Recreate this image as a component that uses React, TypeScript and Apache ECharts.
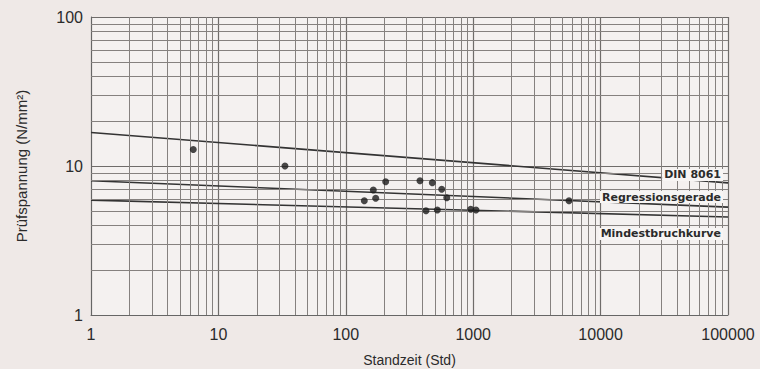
import React, { useEffect, useRef } from "react";
import * as echarts from "echarts";

// Axis decades and minor grid factors
const xDecades = [1, 10, 100, 1000, 10000];
const yDecades = [1, 10];
const minorFactors = [2, 3, 4, 5, 6, 7, 8, 9];

// Measured samples: Standzeit (h) and Prüfspannung (N/mm²)
const standzeit = [6.35, 33.3, 139.7, 164.4, 171.7, 205.6, 382, 426, 477.6, 523, 566, 620, 956, 1052, 5650];
const spannung = [12.9, 10.0, 5.85, 6.9, 6.07, 7.85, 7.97, 5.01, 7.73, 5.07, 6.98, 6.13, 5.12, 5.07, 5.85];

// Reference lines (values at x = 1 and x = 100000)
const lineX = [1, 100000];
const din8061 = [16.8, 7.7];
const regressionsgerade = [7.97, 5.3];
const mindestbruchkurve = [5.9, 4.55];

const FONT = "Liberation Sans";
const LABEL_FONT = "DejaVu Sans";
const GRID_COLOR = "#85817f";
const INK = "#2b2b2b";

function minorValues(decades: number[]) {
  const out: number[] = [];
  decades.forEach((d) => minorFactors.forEach((f) => out.push(d * f)));
  return out;
}

function lineSeries(name: string, values: number[], labelOffset: number[]) {
  return {
    name,
    type: "line",
    data: lineX.map((x, i) => [x, values[i]]),
    showSymbol: false,
    symbol: "none",
    lineStyle: { color: "#333", width: 1.6 },
    z: 3,
    markPoint: {
      silent: true,
      symbol: "rect",
      symbolSize: 0,
      data: [
        {
          coord: [lineX[1], values[1]],
          label: {
            show: true,
            formatter: name,
            position: "left",
            distance: 5,
            offset: labelOffset,
            fontFamily: LABEL_FONT,
            fontWeight: "bold",
            fontSize: 11,
            color: INK,
            backgroundColor: "#f7f5f4",
            padding: [1, 2, 0, 2],
          },
        },
      ],
    },
  };
}

export default function App() {
  const ref = useRef<HTMLDivElement>(null);
  useEffect(() => {
    if (!ref.current) return;
    const chart = echarts.init(ref.current, null, { renderer: "svg" });
    const minorLine = { color: GRID_COLOR, width: 1, type: "solid" };
    chart.setOption({
      animation: false,
      backgroundColor: "#efe9e7",
      grid: {
        left: 91,
        right: 32,
        top: 17,
        bottom: 54,
        show: true,
        backgroundColor: "#f4f1f0",
        borderWidth: 0,
        containLabel: false,
        outerBoundsMode: "none",
      },
      xAxis: {
        type: "log",
        logBase: 10,
        min: 1,
        max: 100000,
        name: "Standzeit (Std)",
        nameLocation: "middle",
        nameGap: 38,
        nameTextStyle: { fontFamily: FONT, fontSize: 14, color: INK },
        axisLine: { show: true, lineStyle: { color: "#666", width: 1 } },
        axisTick: { show: false },
        axisLabel: {
          fontFamily: FONT,
          fontSize: 16,
          color: INK,
          margin: 11,
          formatter: (v: number) => String(Math.round(v)),
        },
        splitLine: { show: true, lineStyle: { color: "#6f6c6a", width: 1.2 } },
      },
      yAxis: {
        type: "log",
        logBase: 10,
        min: 1,
        max: 100,
        name: "Prüfspannung (N/mm²)",
        nameLocation: "middle",
        nameGap: 62,
        nameTextStyle: { fontFamily: FONT, fontSize: 15, color: INK },
        axisLine: { show: true, lineStyle: { color: "#666", width: 1 } },
        axisTick: { show: false },
        axisLabel: {
          fontFamily: FONT,
          fontSize: 16,
          color: INK,
          margin: 8,
          formatter: (v: number) => String(Math.round(v)),
        },
        splitLine: { show: true, lineStyle: { color: "#6f6c6a", width: 1.2 } },
      },
      series: [
        {
          name: "grid",
          type: "line",
          data: [],
          silent: true,
          markLine: {
            silent: true,
            symbol: "none",
            label: { show: false },
            lineStyle: minorLine,
            data: [
              ...minorValues(xDecades).map((v) => ({ xAxis: v })),
              ...minorValues(yDecades).map((v) => ({ yAxis: v })),
            ],
          },
          z: 1,
        },
        lineSeries("DIN 8061", din8061, [0, -8]),
        lineSeries("Regressionsgerade", regressionsgerade, [0, -10]),
        lineSeries("Mindestbruchkurve", mindestbruchkurve, [0, 17]),
        {
          name: "Messwerte",
          type: "scatter",
          data: standzeit.map((x, i) => [x, spannung[i]]),
          symbolSize: 7,
          itemStyle: { color: "#1c1c1c" },
          z: 5,
        },
      ],
    });
    return () => chart.dispose();
  }, []);
  return (
    <div
      ref={ref}
      style={{ position: "fixed", left: 0, top: 0, width: 760, height: 369 }}
    />
  );
}
